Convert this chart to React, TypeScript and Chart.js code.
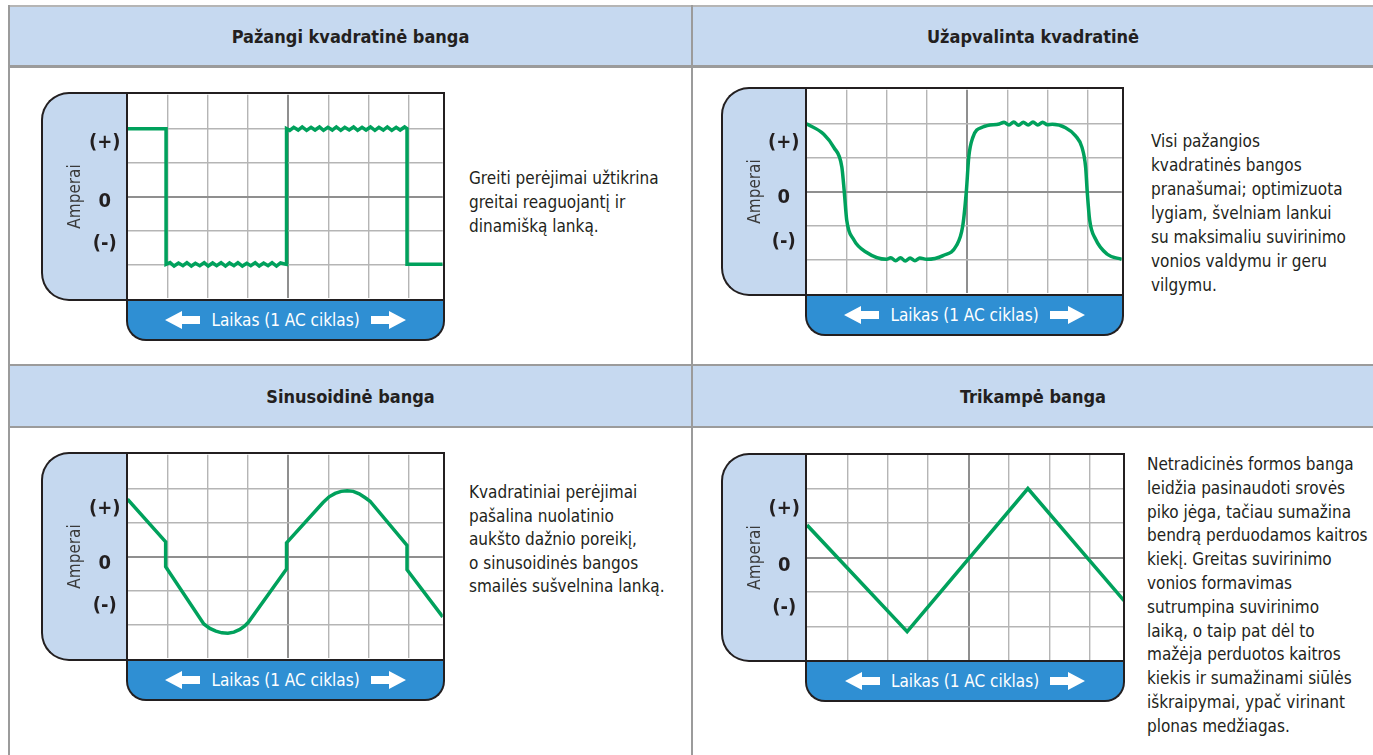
import React, { useEffect, useRef } from 'react';
import { Chart, registerables } from 'chart.js';

Chart.register(...registerables);

const FONT = '"DejaVu Sans Condensed", "DejaVu Sans", sans-serif';
const GREEN = '#00a15c';
const INK = '#231f20';
const LINE = '#9b9b9b';
const HDR = '#c6d9f0';
const BOX = '#c5d8ef';
const BLUE = '#2f8fd3';
const GRID_LIGHT = '#b5b5b5';
const GRID_DARK = '#8f8f8f';

// ---- data ----
const TICK_LABELS = ['(+)', '0', '(-)'];
const Y_GRID = [-2, -1, 0, 1, 2];
const X_GRID = [1, 2, 3, 4, 5, 6, 7];
const X_MAX = 7.85;
const Y_MIN = -3;
const Y_MAX = 3;
const X_TITLE = 'Laikas (1 AC ciklas)';
const Y_TITLE = 'Amperai';

const TITLES = ['Pažangi kvadratinė banga', 'Užapvalinta kvadratinė', 'Sinusoidinė banga', 'Trikampė banga'];

// Pažangi kvadratinė banga
const SQ_X = [0, 0.96, 0.96, 1.06, 1.16, 1.27, 1.38, 1.48, 1.59, 1.69, 1.80, 1.91, 2.01, 2.12, 2.22, 2.33, 2.44, 2.54, 2.65, 2.75, 2.86, 2.97, 3.07, 3.18, 3.28, 3.39, 3.50, 3.60, 3.71, 3.81, 3.96, 3.96, 4.04, 4.14, 4.25, 4.35, 4.46, 4.57, 4.67, 4.78, 4.88, 4.99, 5.10, 5.20, 5.31, 5.41, 5.52, 5.63, 5.73, 5.84, 5.94, 6.05, 6.16, 6.26, 6.37, 6.47, 6.58, 6.69, 6.79, 6.90, 6.96, 6.96, 7.85];
const SQ_Y = [2, 2, -2.0, -1.95, -2.05, -1.96, -2.04, -1.95, -2.05, -1.97, -2.04, -1.95, -2.05, -1.96, -2.04, -1.95, -2.05, -1.96, -2.04, -1.95, -2.05, -1.97, -2.04, -1.95, -2.05, -1.96, -2.04, -1.95, -2.05, -1.96, -2.0, 2.0, 1.95, 2.04, 1.96, 2.05, 1.95, 2.04, 1.96, 2.05, 1.95, 2.04, 1.96, 2.05, 1.95, 2.04, 1.96, 2.05, 1.95, 2.04, 1.96, 2.05, 1.95, 2.04, 1.96, 2.05, 1.95, 2.04, 1.96, 2.05, 2.0, -2.0, -2.0];
const SQ_TICKS = [1.59, -0.15, -1.38];

// Užapvalinta kvadratinė
const RS_X = [0, 0.43, 0.68, 0.88, 0.94, 1.0, 1.17, 1.5, 1.99, 2.1, 2.22, 2.34, 2.46, 2.58, 2.7, 2.82, 2.99, 3.4, 3.73, 3.89, 3.98, 4.04, 4.14, 4.39, 4.8, 4.92, 5.04, 5.16, 5.28, 5.4, 5.52, 5.64, 5.76, 5.88, 6.0, 6.12, 6.45, 6.70, 6.86, 6.95, 6.99, 7.05, 7.20, 7.49, 7.85];
const RS_Y = [2.0, 1.69, 1.30, 0.72, 0.0, -0.83, -1.41, -1.8, -2.0, -1.95, -2.04, -1.95, -2.05, -1.96, -2.04, -1.96, -2.0, -1.89, -1.6, -1.02, 0.0, 1.01, 1.59, 1.9, 1.99, 2.04, 1.96, 2.05, 1.95, 2.04, 1.96, 2.05, 1.96, 2.04, 1.97, 1.98, 1.88, 1.64, 1.30, 0.72, 0.0, -0.83, -1.41, -1.85, -2.0];
const RS_TICKS = [1.43, -0.19, -1.49];

// Sinusoidinė banga
const SN_X = [0, 0.95, 0.95, 1.9, 2.05, 2.2, 2.35, 2.5, 2.65, 2.8, 2.92, 3.01, 3.96, 3.96, 4.87, 5.02, 5.17, 5.32, 5.47, 5.62, 5.77, 5.92, 6.04, 6.96, 6.96, 7.85];
const SN_Y = [1.69, 0.43, -0.3, -1.99, -2.12, -2.2, -2.25, -2.26, -2.23, -2.15, -2.05, -1.94, -0.37, 0.40, 1.59, 1.76, 1.86, 1.92, 1.94, 1.92, 1.85, 1.73, 1.63, 0.33, -0.39, -1.78];
const SN_TICKS = [1.42, -0.22, -1.45];

// Trikampė banga
const TR_X = [0, 2.48, 5.47, 7.85];
const TR_Y = [0.94, -2.15, 2.0, -1.25];
const TR_TICKS = [1.41, -0.24, -1.46];

const TEXT_1 = ['Greiti perėjimai užtikrina', 'greitai reaguojantį ir', 'dinamišką lanką.'];
const TEXT_2 = ['Visi pažangios', 'kvadratinės bangos', 'pranašumai; optimizuota', 'lygiam, švelniam lankui', 'su maksimaliu suvirinimo', 'vonios valdymu ir geru', 'vilgymu.'];
const TEXT_3 = ['Kvadratiniai perėjimai', 'pašalina nuolatinio', 'aukšto dažnio poreikį,', 'o sinusoidinės bangos', 'smailės sušvelnina lanką.'];
const TEXT_4 = ['Netradicinės formos banga', 'leidžia pasinaudoti srovės', 'piko jėga, tačiau sumažina', 'bendrą perduodamos kaitros', 'kiekį. Greitas suvirinimo', 'vonios formavimas', 'sutrumpina suvirinimo', 'laiką, o taip pat dėl to', 'mažėja perduotos kaitros', 'kiekis ir sumažinami siūlės', 'iškraipymai, ypač virinant', 'plonas medžiagas.'];

type ChartProps = {
  xs: number[];
  ys: number[];
  ticks: number[];
  smooth: boolean;
  axisW: number;
  plotW: number;
  plotH: number;
};

function zeroPad(s: any) {
  s.paddingTop = 0;
  s.paddingBottom = 0;
  s.paddingLeft = 0;
  s.paddingRight = 0;
}

function WaveChart({ xs, ys, ticks, smooth, axisW, plotW, plotH }: ChartProps) {
  const ref = useRef<HTMLCanvasElement>(null);
  useEffect(() => {
    const pts = xs.map((x, i) => ({ x, y: ys[i] }));
    const chart = new Chart(ref.current as HTMLCanvasElement, {
      type: 'line',
      data: {
        datasets: [
          {
            data: pts,
            borderColor: GREEN,
            borderWidth: 3.5,
            pointRadius: 0,
            tension: 0,
            cubicInterpolationMode: smooth ? 'monotone' : 'default',
            xAxisID: 'x',
            yAxisID: 'y',
          } as any,
        ],
      },
      options: {
        animation: false,
        responsive: true,
        maintainAspectRatio: false,
        layout: { padding: 0 },
        plugins: { legend: { display: false }, tooltip: { enabled: false } },
        events: [],
        scales: {
          x: {
            type: 'linear',
            position: 'bottom',
            min: 0,
            max: X_MAX,
            ticks: { display: false },
            border: { display: false },
            grid: {
              drawTicks: false,
              color: (c: any) => (c.tick && c.tick.value === 4 ? GRID_DARK : GRID_LIGHT),
              lineWidth: (c: any) => (c.tick && c.tick.value === 4 ? 2 : 1.4),
            },
            afterBuildTicks: (s: any) => {
              s.ticks = X_GRID.map((v) => ({ value: v }));
            },
            afterFit: (s: any) => {
              s.height = 0;
              zeroPad(s);
            },
          },
          y: {
            type: 'linear',
            position: 'left',
            min: Y_MIN,
            max: Y_MAX,
            ticks: { display: false },
            border: { display: false },
            grid: {
              drawTicks: false,
              color: (c: any) => (c.tick && c.tick.value === 0 ? GRID_DARK : GRID_LIGHT),
              lineWidth: (c: any) => (c.tick && c.tick.value === 0 ? 2 : 1.4),
            },
            afterBuildTicks: (s: any) => {
              s.ticks = Y_GRID.map((v) => ({ value: v }));
            },
            afterFit: (s: any) => {
              s.width = 0;
              zeroPad(s);
            },
          },
          yl: {
            type: 'linear',
            position: 'left',
            min: Y_MIN,
            max: Y_MAX,
            border: { display: false },
            grid: { display: false, drawTicks: false },
            ticks: {
              autoSkip: false,
              padding: 7,
              crossAlign: 'center',
              color: INK,
              font: { family: FONT, size: 20, weight: 'bold' },
              callback: (_v: any, i: number) => TICK_LABELS[i],
            },
            title: {
              display: true,
              text: Y_TITLE,
              color: '#3a3a3a',
              font: { family: FONT, size: 17 },
              padding: { top: 22.8, bottom: 0 },
            },
            afterBuildTicks: (s: any) => {
              s.ticks = ticks.map((v) => ({ value: v }));
            },
            afterFit: (s: any) => {
              s.width = axisW;
              zeroPad(s);
            },
          },
        } as any,
      },
    });
    return () => chart.destroy();
  }, []);
  return (
    <div style={{ position: 'absolute', left: 0, top: 0, width: axisW + plotW, height: plotH }}>
      <canvas ref={ref} />
    </div>
  );
}

function LeftArrow() {
  return (
    <svg width="35" height="18" viewBox="0 0 35 18" style={{ display: 'block' }}>
      <polygon points="0,9 17,0 17,5 35,5 35,13 17,13 17,18" fill="#fff" />
    </svg>
  );
}
function RightArrow() {
  return (
    <svg width="35" height="18" viewBox="0 0 35 18" style={{ display: 'block' }}>
      <polygon points="35,9 18,0 18,5 0,5 0,13 18,13 18,18" fill="#fff" />
    </svg>
  );
}

type PanelProps = {
  boxLeft: number;
  plotLeft: number;
  plotTop: number;
  xs: number[];
  ys: number[];
  ticks: number[];
  smooth: boolean;
};

function Panel({ boxLeft, plotLeft, plotTop, xs, ys, ticks, smooth }: PanelProps) {
  const plotW = 317;
  const plotH = 207;
  const barH = 39.5;
  const bw = 2.5;
  const axisW = plotLeft - boxLeft;
  return (
    <div style={{ position: 'absolute', left: boxLeft, top: plotTop, width: axisW + plotW, height: plotH }}>
      <div
        style={{
          position: 'absolute',
          left: -bw / 2,
          top: -bw / 2,
          width: axisW + bw / 2,
          height: plotH + bw,
          boxSizing: 'border-box',
          background: BOX,
          border: `${bw}px solid ${INK}`,
          borderRight: 'none',
          borderRadius: '28px 0 0 28px',
        }}
      />
      <div style={{ position: 'absolute', left: axisW, top: 0, width: plotW, height: plotH, background: '#fff' }} />
      <WaveChart xs={xs} ys={ys} ticks={ticks} smooth={smooth} axisW={axisW} plotW={plotW} plotH={plotH} />
      <div
        style={{
          position: 'absolute',
          left: axisW - bw / 2,
          top: plotH,
          width: plotW + bw,
          height: barH + bw / 2,
          boxSizing: 'border-box',
          background: BLUE,
          border: `${bw}px solid ${INK}`,
          borderTop: 'none',
          borderRadius: '0 0 20px 20px',
          display: 'flex',
          alignItems: 'center',
          justifyContent: 'center',
          color: '#fff',
          fontFamily: FONT,
          fontSize: 17,
          paddingTop: 1,
        }}
      >
        <LeftArrow />
        <span style={{ margin: '0 11px', whiteSpace: 'nowrap' }}>{X_TITLE}</span>
        <RightArrow />
      </div>
      <div
        style={{
          position: 'absolute',
          left: axisW - bw / 2,
          top: -bw / 2,
          width: plotW + bw,
          height: plotH + bw,
          boxSizing: 'border-box',
          border: `${bw}px solid ${INK}`,
          pointerEvents: 'none',
        }}
      />
    </div>
  );
}

function TextBlock({ left, top, lines, lh }: { left: number; top: number; lines: string[]; lh: number }) {
  return (
    <div
      style={{
        position: 'absolute',
        left,
        top,
        fontFamily: FONT,
        fontSize: 17,
        lineHeight: `${lh}px`,
        color: INK,
        whiteSpace: 'nowrap',
      }}
    >
      {lines.map((l, i) => (
        <div key={i}>{l}</div>
      ))}
    </div>
  );
}

function Header({ left, top, width, height, text }: { left: number; top: number; width: number; height: number; text: string }) {
  return (
    <div
      style={{
        position: 'absolute',
        left,
        top,
        width,
        height,
        display: 'flex',
        alignItems: 'center',
        justifyContent: 'center',
        fontFamily: FONT,
        fontWeight: 'bold',
        fontSize: 18,
        color: INK,
      }}
    >
      {text}
    </div>
  );
}

export default function App() {
  const abs = (s: React.CSSProperties): React.CSSProperties => ({ position: 'absolute', ...s });
  return (
    <div style={{ position: 'absolute', left: 0, top: 0, width: 1373, height: 755, overflow: 'hidden', background: '#fff' }}>
      <div style={abs({ left: 8, top: 7, width: 1365, height: 58, background: HDR })} />
      <div style={abs({ left: 8, top: 366, width: 1365, height: 60, background: HDR })} />
      <div style={abs({ left: 8, top: 5, width: 1365, height: 2, background: '#b5b5b5' })} />
      <div style={abs({ left: 8, top: 65, width: 1365, height: 2.5, background: LINE })} />
      <div style={abs({ left: 8, top: 364, width: 1365, height: 2, background: LINE })} />
      <div style={abs({ left: 8, top: 426, width: 1365, height: 2, background: LINE })} />
      <div style={abs({ left: 8, top: 5, width: 2, height: 750, background: LINE })} />
      <div style={abs({ left: 691, top: 5, width: 2, height: 750, background: LINE })} />

      <Header left={10} top={7} width={681} height={58} text={TITLES[0]} />
      <Header left={693} top={7} width={680} height={58} text={TITLES[1]} />
      <Header left={10} top={366} width={681} height={60} text={TITLES[2]} />
      <Header left={693} top={366} width={680} height={60} text={TITLES[3]} />

      <Panel boxLeft={42.5} plotLeft={127} plotTop={93} xs={SQ_X} ys={SQ_Y} ticks={SQ_TICKS} smooth={false} />
      <Panel boxLeft={722.5} plotLeft={806} plotTop={88} xs={RS_X} ys={RS_Y} ticks={RS_TICKS} smooth={true} />
      <Panel boxLeft={42.5} plotLeft={127} plotTop={453} xs={SN_X} ys={SN_Y} ticks={SN_TICKS} smooth={false} />
      <Panel boxLeft={722.5} plotLeft={806.5} plotTop={454} xs={TR_X} ys={TR_Y} ticks={TR_TICKS} smooth={false} />

      <TextBlock left={469} top={166} lines={TEXT_1} lh={24} />
      <TextBlock left={1151} top={129} lines={TEXT_2} lh={24} />
      <TextBlock left={469} top={481} lines={TEXT_3} lh={23.5} />
      <TextBlock left={1147} top={453} lines={TEXT_4} lh={23.8} />
    </div>
  );
}
